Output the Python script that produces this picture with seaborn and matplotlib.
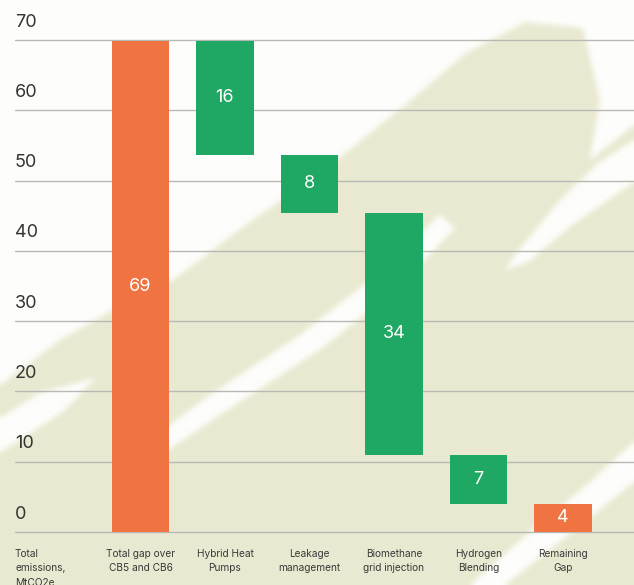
import numpy as np
import pandas as pd
import matplotlib
matplotlib.use("Agg")
import matplotlib.pyplot as plt
from matplotlib.path import Path
import seaborn as sns

# ---- data ----
categories = ["Total\nemissions,\nMtCO2e", "Total gap over\nCB5 and CB6", "Hybrid Heat\nPumps",
              "Leakage\nmanagement", "Biomethane\ngrid injection", "Hydrogen\nBlending", "Remaining\nGap"]
steps = [np.nan, 69.9, -16.2, -8.3, -34.4, -7.0, 4.0]   # total, reductions, remaining
kinds = ["none", "total", "cut", "cut", "cut", "cut", "total"]
value_labels = ["", "69", "16", "8", "34", "7", "4"]
yticks = [0, 10, 20, 30, 40, 50, 60, 70]

ORANGE = "#EF7441"
GREEN = "#1FA764"

# waterfall geometry derived from data
tops, bottoms = [], []
running = 0.0
for s, k in zip(steps, kinds):
    if np.isnan(s):
        tops.append(np.nan); bottoms.append(np.nan)
    elif k == "total":
        tops.append(s); bottoms.append(0.0); running = s
    else:
        tops.append(running); bottoms.append(running + s); running = running + s
heights = [t - b for t, b in zip(tops, bottoms)]

df = pd.DataFrame({"cat": categories, "height": heights, "bottom": bottoms,
                   "top": tops, "kind": kinds, "label": value_labels})

sns.set_theme(style="white")
plt.rcParams["font.family"] = ["Inter", "DejaVu Sans"]

W, H = 634, 585
fig = plt.figure(figsize=(W / 100, H / 100), dpi=100)
fig.patch.set_facecolor("#FDFDFB")

# ---- background watercolour imitation (soft-edged) ----
yy, xx = np.mgrid[0:H, 0:W]
pts = np.column_stack([xx.ravel() + 0.5, yy.ravel() + 0.5])

def mask(poly):
    return Path(poly).contains_points(pts).reshape(H, W).astype(float)

def blur(a, r):
    for _ in range(3):
        c = np.cumsum(np.pad(a, ((0, 0), (r + 1, r)), mode="edge"), axis=1)
        a = (c[:, 2 * r + 1:] - c[:, :-2 * r - 1]) / (2 * r + 1)
        c = np.cumsum(np.pad(a, ((r + 1, r), (0, 0)), mode="edge"), axis=0)
        a = (c[2 * r + 1:, :] - c[:-2 * r - 1, :]) / (2 * r + 1)
    return a

main = [(0, 385), (60, 340), (130, 300), (174, 279), (243, 227), (324, 170), (405, 105),
        (466, 53), (526, 22), (583, 28), (600, 100), (590, 160), (634, 125), (634, 585), (0, 585)]
streaks = [
    [(150, 440), (210, 395), (300, 335), (380, 272), (440, 215), (455, 228), (398, 288),
     (322, 348), (235, 405), (165, 452)],
    [(634, 140), (600, 162), (560, 200), (515, 255), (505, 270), (528, 262), (572, 225),
     (634, 182)],
    [(634, 442), (590, 482), (530, 532), (470, 585), (505, 585), (562, 540), (634, 482)],
    [(0, 418), (40, 393), (95, 378), (65, 410), (20, 440), (0, 452)],
]
m = mask(main)
for s in streaks:
    m = m * (1 - mask(s))
m = blur(m, 2) * 0.92

white_rgb = np.array([253, 253, 251]) / 255
beige_rgb = np.array([232, 232, 206]) / 255
img = white_rgb[None, None, :] * (1 - m[..., None]) + beige_rgb[None, None, :] * m[..., None]

bg = fig.add_axes([0, 0, 1, 1], zorder=0)
bg.set_axis_off()
bg.imshow(img, extent=(0, 1, 0, 1), aspect="auto", interpolation="bilinear")
bg.set_xlim(0, 1); bg.set_ylim(0, 1)

# ---- main axes ----
ppu = (532 - 40) / 70.0
pad = 0.6
y_bot_px = 532 + pad * ppu
y_top_px = 40 - pad * ppu
ax = fig.add_axes([15 / W, (H - y_bot_px) / H, (W - 15) / W, (y_bot_px - y_top_px) / H], zorder=1)
ax.patch.set_alpha(0)

palette = {c: (ORANGE if k == "total" else GREEN) for c, k in zip(categories, kinds)}
sns.barplot(data=df, x="cat", y="height", hue="cat", palette=palette, order=categories,
            hue_order=categories, width=0.68, legend=False, ax=ax, saturation=1,
            linewidth=0, zorder=3)

# move each bar to float at its waterfall bottom
for p in ax.patches:
    xc = p.get_x() + p.get_width() / 2
    i = int(round(xc))
    b = df["bottom"].iloc[i]
    if np.isnan(b):
        p.set_visible(False)
        continue
    p.set_y(b)

spacing = 84.5
x0 = 56
ax.set_xlim((15 - x0) / spacing, (W - x0) / spacing)
ax.set_ylim(-pad, 70 + pad)

for t in yticks:
    ax.axhline(t, color="#B8B8B4", lw=1.0, zorder=1)
    ax.text(0, t + 2.55, str(t), transform=ax.get_yaxis_transform(), ha="left",
            va="center", fontsize=13, color="#333333")

for i, row in df.iterrows():
    if row["label"]:
        ax.text(i, (row["top"] + row["bottom"]) / 2, row["label"], ha="center", va="center",
                color="white", fontsize=13, zorder=5)

ax.set_xticks([]); ax.set_yticks([])
ax.set_xlabel(""); ax.set_ylabel("")
for sp in ax.spines.values():
    sp.set_visible(False)

# category labels
label_y = 1 - (549 - y_top_px) / (y_bot_px - y_top_px)
for i, c in enumerate(categories):
    if i == 0:
        ax.text(0, label_y, c, transform=ax.transAxes, ha="left", va="top",
                fontsize=7.3, color="#3A3A3A", linespacing=1.55, clip_on=False)
    else:
        ax.text(i, label_y, c, transform=ax.get_xaxis_transform(), ha="center", va="top",
                fontsize=7.3, color="#3A3A3A", linespacing=1.55, multialignment="center",
                clip_on=False)

fig.savefig("out.png", dpi=100, facecolor=fig.get_facecolor())
